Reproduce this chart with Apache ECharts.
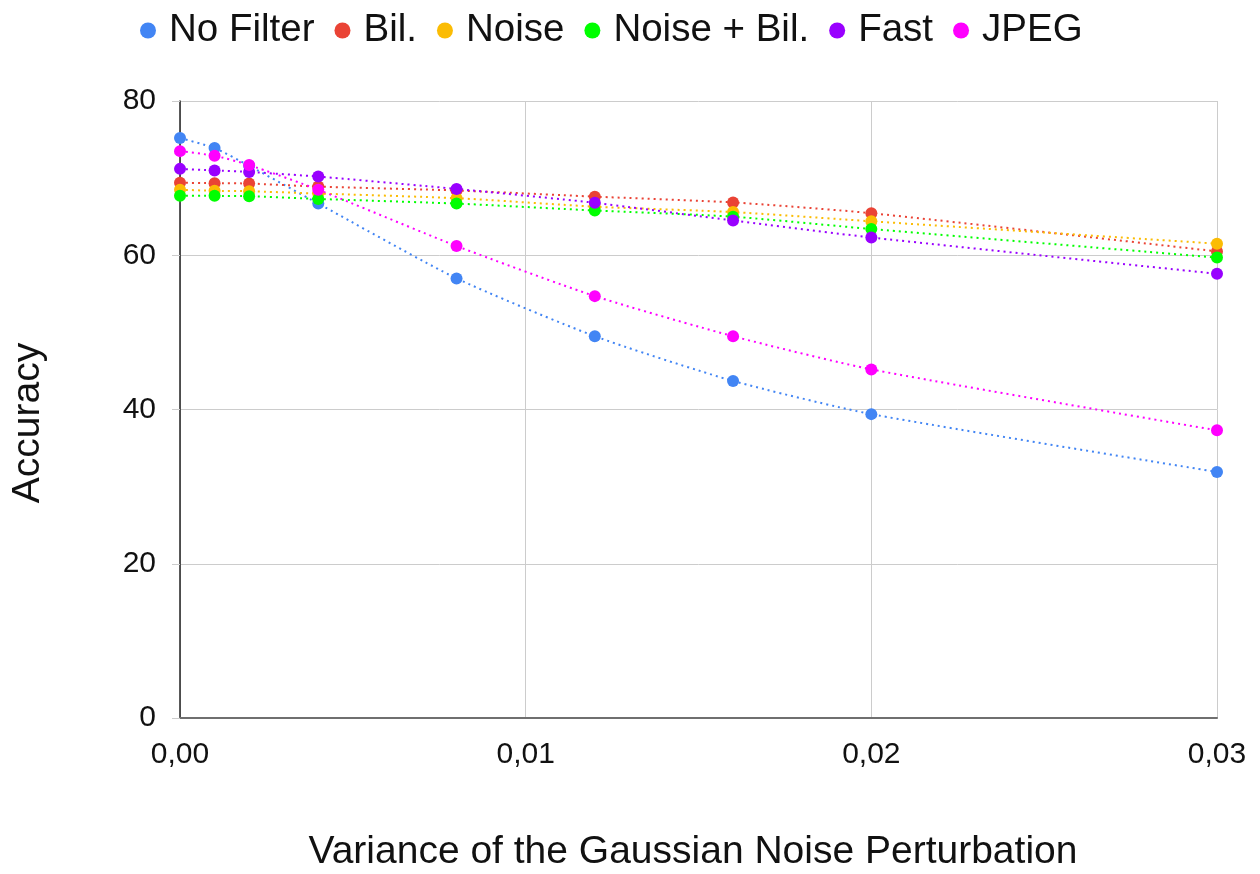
<!DOCTYPE html>
<html>
<head>
<meta charset="utf-8">
<script src="https://cdn.jsdelivr.net/npm/echarts@6/dist/echarts.min.js"></script>
<style>
html,body{margin:0;padding:0;background:#fff;}
#chart{width:1260px;height:874px;}
</style>
</head>
<body>
<div id="chart"></div>
<script>
const xValues = [0, 0.001, 0.002, 0.004, 0.008, 0.012, 0.016, 0.02, 0.03];
const seriesNames = ['No Filter', 'Bil.', 'Noise', 'Noise + Bil.', 'Fast', 'JPEG'];
const noFilter = [75.2, 73.9, 71.6, 66.7, 57.0, 49.5, 43.7, 39.4, 31.9];
const bil      = [69.4, 69.35, 69.3, 68.9, 68.4, 67.6, 66.85, 65.45, 60.5];
const noise    = [68.5, 68.35, 68.3, 68.0, 67.4, 66.3, 65.6, 64.4, 61.5];
const noiseBil = [67.7, 67.7, 67.65, 67.3, 66.7, 65.8, 65.0, 63.4, 59.7];
const fast     = [71.2, 71.0, 70.8, 70.2, 68.6, 66.8, 64.5, 62.3, 57.6];
const jpeg     = [73.5, 72.9, 71.7, 68.5, 61.2, 54.7, 49.5, 45.2, 37.3];
const yTicks = [0, 20, 40, 60, 80];
const xTicks = [0, 0.01, 0.02, 0.03];

const colors = ['#4285F4', '#EA4335', '#FBBC04', '#00FF00', '#9900FF', '#FF00FF'];
const allValues = [noFilter, bil, noise, noiseBil, fast, jpeg];
const FONT = '"Liberation Sans", Arial, Helvetica, sans-serif';
const TXT = '#111';

const chart = echarts.init(document.getElementById('chart'), null, {renderer: 'canvas'});

const series = seriesNames.map((name, i) => ({
  name: name,
  type: 'line',
  data: xValues.map((x, j) => [x, allValues[i][j]]),
  smooth: 0.2,
  symbol: 'circle',
  symbolSize: 12,
  showSymbol: true,
  itemStyle: {color: colors[i]},
  lineStyle: {color: colors[i], width: 2, type: [2, 4]},
  emphasis: {disabled: true},
  animation: false
}));

chart.setOption({
  animation: false,
  backgroundColor: '#ffffff',
  textStyle: {fontFamily: FONT},
  color: colors,
  legend: {
    left: 135,
    top: 6,
    icon: 'circle',
    itemWidth: 16,
    itemHeight: 16,
    itemGap: 20,
    textStyle: {fontSize: 38.5, color: TXT, fontFamily: FONT, padding: [0, 0, 0, 8]},
    data: seriesNames
  },
  grid: {left: 180, right: 43, top: 101, bottom: 156, containLabel: false},
  xAxis: {
    type: 'value',
    min: xTicks[0],
    max: xTicks[xTicks.length - 1],
    interval: 0.01,
    axisLine: {show: true, onZero: false, lineStyle: {color: '#6f6f6f', width: 2}},
    axisTick: {show: false},
    splitLine: {show: true, lineStyle: {color: '#cccccc', width: 1}},
    axisLabel: {
      fontSize: 30, color: TXT, fontFamily: FONT, margin: 22,
      formatter: v => v.toFixed(2).replace('.', ',')
    }
  },
  yAxis: {
    type: 'value',
    min: yTicks[0],
    max: yTicks[yTicks.length - 1],
    interval: 20,
    axisLine: {show: true, lineStyle: {color: '#222', width: 1.5}},
    axisTick: {show: true, length: 8, lineStyle: {color: '#cccccc'}},
    splitLine: {show: true, lineStyle: {color: '#cccccc', width: 1}},
    axisLabel: {fontSize: 30, color: TXT, fontFamily: FONT, margin: 24}
  },
  graphic: [
    {
      type: 'text',
      x: 693, y: 852,
      style: {
        text: 'Variance of the Gaussian Noise Perturbation',
        fontSize: 39, fontFamily: FONT, fill: TXT,
        textAlign: 'center', textVerticalAlign: 'middle'
      }
    },
    {
      type: 'text',
      x: 28, y: 423,
      rotation: Math.PI / 2,
      style: {
        text: 'Accuracy',
        fontSize: 39, fontFamily: FONT, fill: TXT,
        textAlign: 'center', textVerticalAlign: 'middle'
      }
    }
  ],
  series: series
});
</script>
</body>
</html>
